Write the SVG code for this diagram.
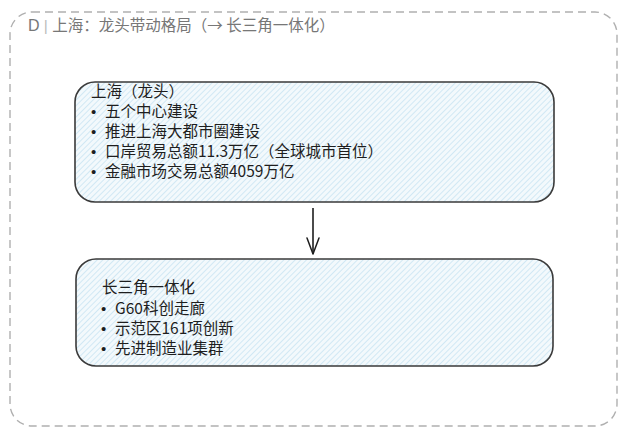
<svg xmlns="http://www.w3.org/2000/svg" width="627" height="438" viewBox="0 0 627 438">
  <defs>
    <pattern id="hatch" patternUnits="userSpaceOnUse" width="4" height="4" patternTransform="rotate(45)">
      <rect width="4" height="4" fill="#f3f9fc"/>
      <line x1="0" y1="0" x2="0" y2="4" stroke="#bfe0f0" stroke-width="1.3"/>
    </pattern>
    <marker id="arrow" viewBox="0 0 18 14" refX="17" refY="7" markerWidth="18" markerHeight="14" markerUnits="userSpaceOnUse" orient="auto">
      <path d="M1 1 L17 7 L1 13" fill="none" stroke="#1e1e1e" stroke-width="1.5" stroke-linecap="round" stroke-linejoin="round"/>
    </marker>
  </defs>
  <style>
    .frame { fill: none; stroke: #b0b0b0; stroke-width: 1.4; stroke-dasharray: 8 5; }
    .node { fill: url(#hatch); stroke: #3a3a3a; stroke-width: 1.6; }
    .txt { font-family: "Noto Sans CJK SC", "Liberation Sans", sans-serif; font-size: 15.5px; fill: #1e1e1e; }
    .bul { font-family: "Liberation Sans", sans-serif; font-size: 15px; fill: #1e1e1e; }
    .hdr { font-family: "Noto Sans CJK SC", "Liberation Sans", sans-serif; font-size: 15.5px; fill: #777; }
    .conn { fill: none; stroke: #1e1e1e; stroke-width: 1.6; }
  </style>
  <rect width="627" height="438" fill="#ffffff"/>
  <g id="frame">
    <rect class="frame" x="10" y="12" width="607" height="414" rx="22"/>
    <text class="hdr" x="28" y="31"><tspan font-family="Liberation Sans" font-size="16px">D</tspan><tspan font-family="Liberation Sans" fill="#bbb"> | </tspan>上海：龙头带动格局（→ 长三角一体化）</text>
  </g>
  <g id="node-shanghai">
    <rect class="node" x="75" y="82" width="479" height="120" rx="20"/>
    <text class="txt" x="91" y="97">上海（龙头）</text>
    <text class="bul" x="91" y="117">•</text><text class="txt" x="105" y="117">五个中心建设</text>
    <text class="bul" x="91" y="137">•</text><text class="txt" x="105" y="137">推进上海大都市圈建设</text>
    <text class="bul" x="91" y="157">•</text><text class="txt" x="105" y="157">口岸贸易总额11.3万亿（全球城市首位）</text>
    <text class="bul" x="91" y="177">•</text><text class="txt" x="105" y="177">金融市场交易总额4059万亿</text>
  </g>
  <g id="node-yrd">
    <rect class="node" x="76" y="259" width="477" height="107" rx="20"/>
    <text class="txt" x="102" y="293">长三角一体化</text>
    <text class="bul" x="101" y="314">•</text><text class="txt" x="115" y="314">G60科创走廊</text>
    <text class="bul" x="101" y="334">•</text><text class="txt" x="115" y="334">示范区161项创新</text>
    <text class="bul" x="101" y="354">•</text><text class="txt" x="115" y="354">先进制造业集群</text>
  </g>
  <g id="connectors">
    <path class="conn" d="M313 208 L313 254" marker-end="url(#arrow)"/>
  </g>
</svg>
